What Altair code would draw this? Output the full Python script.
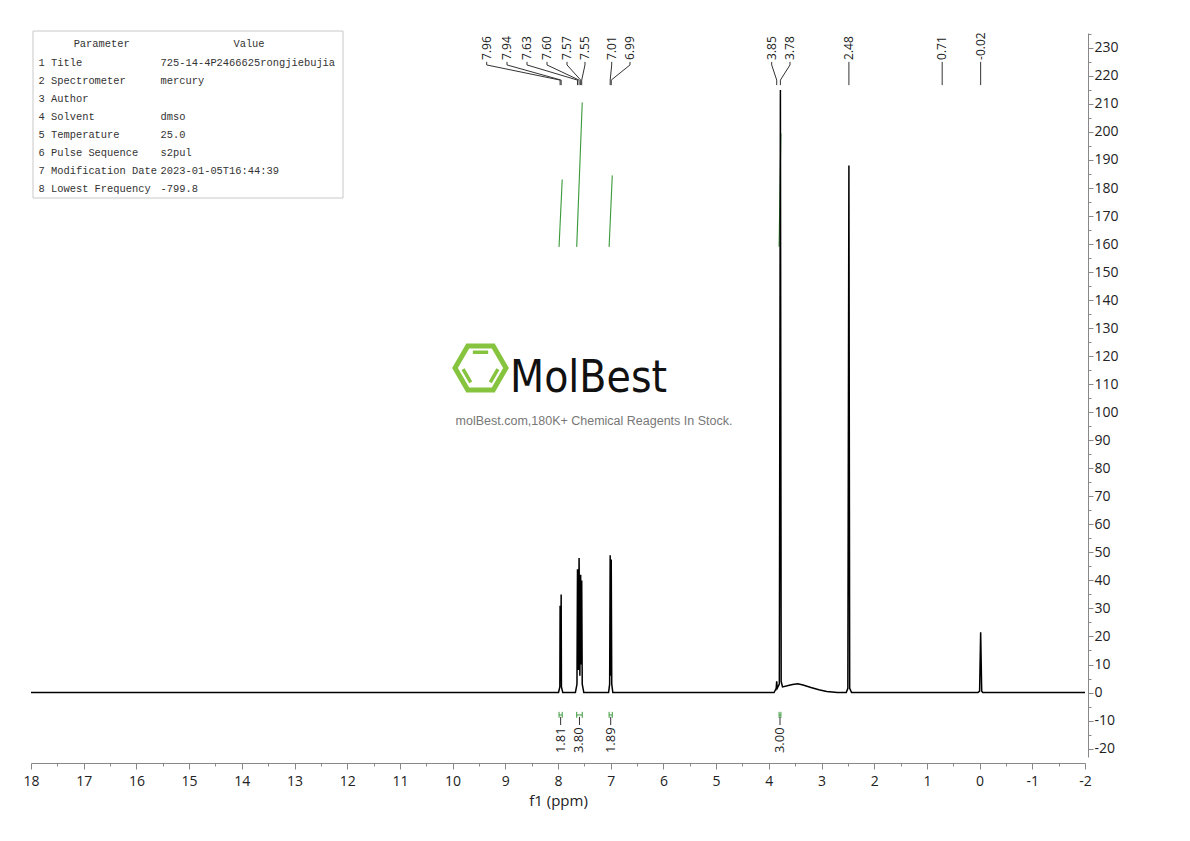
import altair as alt
import pandas as pd

# ---------------- data ----------------
spec_ppm = [18.0, 7.99, 7.965, 7.96, 7.95, 7.94, 7.935, 7.91,
            7.67, 7.64, 7.63, 7.615, 7.60, 7.585, 7.57, 7.562, 7.55, 7.54, 7.51,
            7.04, 7.02, 7.01, 7.0, 6.99, 6.98, 6.96,
            3.9, 3.86, 3.85, 3.84, 3.80, 3.78, 3.765, 3.74, 3.65, 3.55, 3.45, 3.35, 3.2, 3.05, 2.9, 2.7,
            2.53, 2.50, 2.48, 2.465, 2.43,
            0.03, 0.0, -0.02, -0.04, -0.06, -2.0]
spec_int = [0, 0, 2, 31, 4, 35, 2, 0,
            0, 3, 44, 8, 48, 6, 42, 10, 40, 3, 0,
            0, 3, 49, 6, 47.5, 3, 0,
            0, 1.5, 4, 1.5, 3, 215, 4, 2.0, 2.4, 2.9, 3.1, 2.7, 1.8, 1.0, 0.4, 0,
            0, 1.5, 188, 1.5, 0,
            0, 0.5, 21.5, 0.5, 0, 0]

peak_labels = ["7.96", "7.94", "7.63", "7.60", "7.57", "7.55", "7.01", "6.99",
               "3.85", "3.78", "2.48", "0.71", "-0.02"]
peak_ppm = [7.96, 7.94, 7.63, 7.60, 7.57, 7.55, 7.01, 6.99, 3.85, 3.78, 2.48, 0.71, -0.02]
label_ppm = [9.353, 8.968, 8.588, 8.209, 7.829, 7.488, 6.981, 6.634, 3.945, 3.598, 2.48, 0.71, -0.02]

int_start = [7.98, 7.645, 7.03, 3.805]
int_end = [7.92, 7.54, 6.97, 3.77]
int_low = [159.0, 159.0, 159.0, 159.0]
int_high = [183.0, 210.5, 184.5, 199.5]
int_values = ["1.81", "3.80", "1.89", "3.00"]

param_names = ["1 Title", "2 Spectrometer", "3 Author", "4 Solvent", "5 Temperature",
               "6 Pulse Sequence", "7 Modification Date", "8 Lowest Frequency"]
param_values = ["725-14-4P2466625rongjiebujia", "mercury", "", "dmso", "25.0",
                "s2pul", "2023-01-05T16:44:39", "-799.8"]

x_ticks = list(range(18, -3, -1))
x_minor = [t - 0.5 for t in range(18, -2, -1)]
y_ticks = list(range(-20, 240, 10))
y_minor = list(range(-15, 240, 10))

# ---------------- scales / styles ----------------
xs = alt.Scale(domain=[18, -2], nice=False, zero=False)
ys = alt.Scale(domain=[-23, 235.3], nice=False, zero=False)
FONT = "Open Sans"
GREEN = "#3a9a3a"
AX = "#888888"
LAB = "#222222"

one = pd.DataFrame({"a": [0]})

# ---------------- spectrum ----------------
spec_df = pd.DataFrame({"ppm": spec_ppm, "intensity": spec_int, "i": list(range(len(spec_ppm)))})
spectrum = alt.Chart(spec_df).mark_line(color="black", strokeWidth=1.5).encode(
    x=alt.X("ppm:Q", scale=xs, axis=alt.Axis(
        orient="bottom", offset=6, values=x_ticks, tickSize=6, tickColor=AX, domainColor=AX,
        labelFont=FONT, labelFontSize=14, labelColor=LAB, labelPadding=5, labelFlush=False,
        labelOverlap=False, labelExpr="'' + datum.value", title="f1 (ppm)", titleFont=FONT,
        titleFontSize=15, titleFontWeight="normal", titleColor=LAB, titlePadding=5, grid=False)),
    y=alt.Y("intensity:Q", scale=ys, axis=alt.Axis(
        orient="right", offset=3, values=y_ticks, tickSize=5, tickColor=AX, domainColor=AX,
        labelFont=FONT, labelFontSize=14, labelColor=LAB, labelPadding=1, labelFlush=False,
        labelOverlap=False, labelExpr="'' + datum.value", title=None, grid=False)),
    order="i:Q",
)

minor = alt.Chart(pd.DataFrame({"ppm": [8.0], "intensity": [0.0]})).mark_point(opacity=0).encode(
    x=alt.X("ppm:Q", scale=xs, axis=alt.Axis(
        orient="bottom", offset=6, values=x_minor, tickSize=3, tickColor=AX, labels=False,
        domain=False, title=None, grid=False)),
    y=alt.Y("intensity:Q", scale=ys, axis=alt.Axis(
        orient="right", offset=3, values=y_minor, tickSize=3, tickColor=AX, labels=False,
        domain=False, title=None, grid=False)),
)

# ---------------- integrals ----------------
int_rows = []
for j in range(len(int_start)):
    int_rows.append({"g": j, "k": 0, "ppm": int_start[j], "v": int_low[j]})
    int_rows.append({"g": j, "k": 1, "ppm": int_end[j], "v": int_high[j]})
int_curves = alt.Chart(pd.DataFrame(int_rows)).mark_line(color=GREEN, strokeWidth=1.1).encode(
    x=alt.X("ppm:Q", scale=xs, axis=None),
    y=alt.Y("v:Q", scale=ys, axis=None),
    detail="g:N", order="k:Q",
)

int_df = pd.DataFrame({"s": int_start, "e": int_end, "lab": int_values})
int_df["mid"] = (int_df["s"] + int_df["e"]) / 2
int_df["yb"] = -8.0
int_df["yt1"] = -6.9
int_df["yt2"] = -9.0
int_df["yc1"] = -8.7
int_df["yc2"] = -11.6
int_df["yl"] = -21.6

bracket = alt.Chart(int_df).mark_rule(color=GREEN, strokeWidth=1).encode(
    x=alt.X("s:Q", scale=xs, axis=None), x2="e:Q",
    y=alt.Y("yb:Q", scale=ys, axis=None))
tick_s = alt.Chart(int_df).mark_rule(color=GREEN, strokeWidth=1).encode(
    x=alt.X("s:Q", scale=xs, axis=None),
    y=alt.Y("yt1:Q", scale=ys, axis=None), y2="yt2:Q")
tick_e = alt.Chart(int_df).mark_rule(color=GREEN, strokeWidth=1).encode(
    x=alt.X("e:Q", scale=xs, axis=None),
    y=alt.Y("yt1:Q", scale=ys, axis=None), y2="yt2:Q")
int_conn = alt.Chart(int_df).mark_rule(color="#333333", strokeWidth=1).encode(
    x=alt.X("mid:Q", scale=xs, axis=None),
    y=alt.Y("yc1:Q", scale=ys, axis=None), y2="yc2:Q")
int_text = alt.Chart(int_df).mark_text(angle=270, align="left", baseline="middle",
                                       font=FONT, fontSize=13, color=LAB).encode(
    x=alt.X("mid:Q", scale=xs, axis=None),
    y=alt.Y("yl:Q", scale=ys, axis=None),
    text="lab:N")

# ---------------- peak labels ----------------
conn_y = [225.0, 223.9, 218.5, 216.7]
conn_rows = []
for lab, p, lp in zip(peak_labels, peak_ppm, label_ppm):
    pts = [(lp, conn_y[0]), (lp, conn_y[1]), (p, conn_y[2]), (p, conn_y[3])]
    for k, (xx, yy) in enumerate(pts):
        conn_rows.append({"lab": lab, "k": k, "ppm": xx, "y": yy})
peak_conn = alt.Chart(pd.DataFrame(conn_rows)).mark_line(color="#333333", strokeWidth=1).encode(
    x=alt.X("ppm:Q", scale=xs, axis=None),
    y=alt.Y("y:Q", scale=ys, axis=None),
    detail="lab:N", order="k:Q")

plab_df = pd.DataFrame({"lab": peak_labels, "ppm": label_ppm})
plab_df["y"] = 225.7
peak_text = alt.Chart(plab_df).mark_text(angle=270, align="left", baseline="middle",
                                         font=FONT, fontSize=12, color=LAB).encode(
    x=alt.X("ppm:Q", scale=xs, axis=None),
    y=alt.Y("y:Q", scale=ys, axis=None),
    text="lab:N")

# ---------------- parameter table ----------------
box = alt.Chart(one).mark_rect(fill="white", stroke="#c8c8c8", strokeWidth=1).encode(
    x=alt.value(2), x2=alt.value(312), y=alt.value(-2), y2=alt.value(165))

param_df = pd.DataFrame({"name": param_names, "value": param_values, "row": list(range(len(param_names)))})
TFONT = "Liberation Mono"
TSIZE = 10.4
names = alt.Chart(param_df).transform_calculate(py="29.5 + 18 * datum.row").mark_text(
    align="left", baseline="middle", font=TFONT, fontSize=TSIZE, color="#333333").encode(
    x=alt.value(7.5), y=alt.Y("py:Q", scale=None, axis=None), text="name:N")
values = alt.Chart(param_df).transform_calculate(py="29.5 + 18 * datum.row").mark_text(
    align="left", baseline="middle", font=TFONT, fontSize=TSIZE, color="#333333").encode(
    x=alt.value(129.5), y=alt.Y("py:Q", scale=None, axis=None), text="value:N")
head1 = alt.Chart(one).mark_text(align="center", baseline="middle", font=TFONT, fontSize=TSIZE,
                                 color="#333333", text="Parameter").encode(
    x=alt.value(70.7), y=alt.value(11))
head2 = alt.Chart(one).mark_text(align="center", baseline="middle", font=TFONT, fontSize=TSIZE,
                                 color="#333333", text="Value").encode(
    x=alt.value(218), y=alt.value(11))

# ---------------- watermark logo ----------------
LOGO = "#86c440"
hexagon = alt.Chart(one).mark_point(
    shape="M1,0L0.5,0.866L-0.5,0.866L-1,0L-0.5,-0.866L0.5,-0.866Z",
    filled=False, stroke=LOGO, strokeWidth=5, size=2601, opacity=1).encode(
    x=alt.value(449.5), y=alt.value(335))
inner = alt.Chart(one).mark_point(
    shape="M-0.3,-0.616L0.3,-0.616M-0.683,0.048L-0.383,0.568M0.683,0.048L0.383,0.568",
    filled=False, stroke=LOGO, strokeWidth=3.5, size=2601, opacity=1).encode(
    x=alt.value(449.5), y=alt.value(335))
brand = alt.Chart(one).mark_text(
    align="left", baseline="alphabetic",
    font="DejaVu Sans Condensed, Liberation Sans Narrow, Roboto Condensed, Roboto",
    fontSize=44, color="#111111", text="MolBest").encode(
    x=alt.value(479), y=alt.value(359))
tagline = alt.Chart(one).mark_text(
    align="center", baseline="middle", font="Liberation Sans", fontSize=12.5, color="#777777",
    text="molBest.com,180K+ Chemical Reagents In Stock.").encode(
    x=alt.value(563), y=alt.value(388))

chart = alt.layer(
    box, names, values, head1, head2,
    hexagon, inner, brand, tagline,
    int_curves, bracket, tick_s, tick_e, int_conn, int_text,
    peak_conn, peak_text,
    spectrum, minor,
).resolve_axis(x="independent", y="independent").properties(
    width=1054, height=724,
    autosize=alt.AutoSizeParams(type="none"),
    padding={"left": 23, "top": 25, "right": 80, "bottom": 70},
).configure(font=FONT).configure_view(stroke="transparent", strokeWidth=0)

chart.save("out.html", embed_options={"renderer": "svg", "actions": False})
